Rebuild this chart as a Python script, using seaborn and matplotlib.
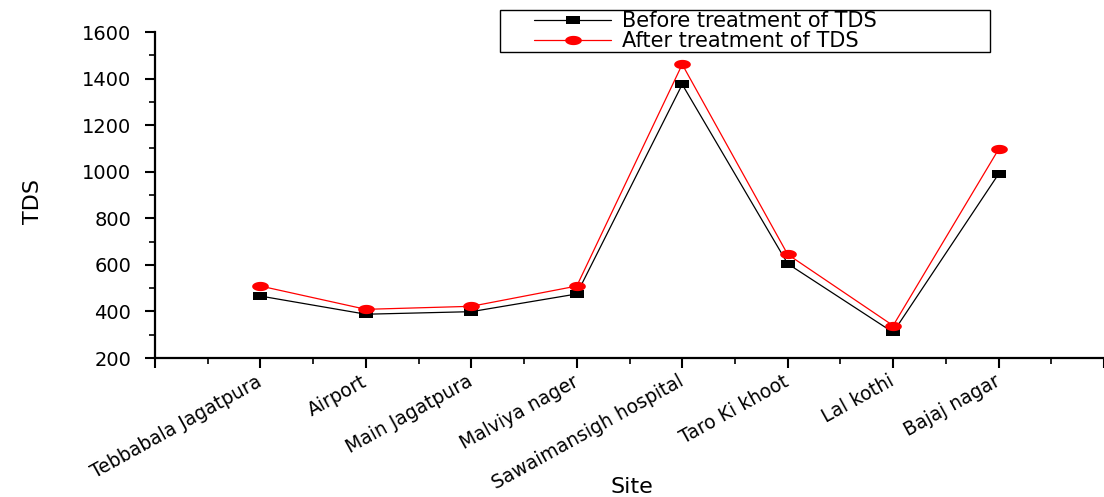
import numpy as np
import pandas as pd
import matplotlib
matplotlib.use("Agg")
import matplotlib.pyplot as plt
from matplotlib.path import Path
from matplotlib.patches import Rectangle
from matplotlib.ticker import MultipleLocator
import seaborn as sns

sites = ["Tebbabala Jagatpura", "Airport", "Main Jagatpura", "Malviya nager",
         "Sawaimansigh hospital", "Taro Ki khoot", "Lal kothi", "Bajaj nagar"]
tds_before = [466, 388, 399, 475, 1375, 605, 310, 990]
tds_after = [509, 409, 422, 509, 1461, 645, 339, 1096]

sns.set_theme(style="white")
plt.rcParams["font.family"] = ["DejaVu Sans"]
plt.rcParams["text.color"] = "black"
plt.rcParams["axes.labelcolor"] = "black"
plt.rcParams["xtick.color"] = "black"
plt.rcParams["ytick.color"] = "black"

# wide rectangle and ellipse markers
rect = Path([(-0.85, -0.5), (0.85, -0.5), (0.85, 0.5), (-0.85, 0.5), (-0.85, -0.5)],
            [Path.MOVETO, Path.LINETO, Path.LINETO, Path.LINETO, Path.CLOSEPOLY])
t = np.linspace(0, 2 * np.pi, 60)
ellipse = Path(np.column_stack([0.9 * np.cos(t), 0.5 * np.sin(t)]), closed=True)

W, H = 1104, 497
fig = plt.figure(figsize=(W / 100, H / 100), dpi=100)
ax = fig.add_axes([155 / W, 139 / H, 1 - 155 / W, 326 / H])

x = np.arange(len(sites))
df = pd.DataFrame({"pos": x, "before": tds_before, "after": tds_after})

sns.lineplot(data=df, x="pos", y="before", ax=ax, color="black", lw=0.9,
             marker=rect, markersize=10.5, markeredgewidth=0, markerfacecolor="black",
             label="Before treatment of TDS")
sns.lineplot(data=df, x="pos", y="after", ax=ax, color="red", lw=0.9,
             marker=ellipse, markersize=12, markeredgewidth=0, markerfacecolor="red",
             label="After treatment of TDS")

ax.set_xlim(-1, (W - 155) / 106.6 - 1)
ax.set_ylim(200, 1600)

for s in ["top", "right"]:
    ax.spines[s].set_visible(False)
for s in ["left", "bottom"]:
    ax.spines[s].set_color("black")
    ax.spines[s].set_linewidth(1.6)

ax.set_xticks(np.arange(-1, 9, 1.0))
ax.set_xticklabels([""] + sites + [""], rotation=29, ha="right", va="center",
                   rotation_mode="anchor", fontsize=13.5)
ax.xaxis.set_minor_locator(MultipleLocator(0.5))
ax.yaxis.set_major_locator(MultipleLocator(200))
ax.yaxis.set_minor_locator(MultipleLocator(100))
ax.tick_params(axis="both", which="major", direction="out", length=7, width=1.5,
               color="black", bottom=True, left=True)
ax.tick_params(axis="both", which="minor", direction="out", length=4, width=1.2,
               color="black", bottom=True, left=True)
ax.tick_params(axis="y", labelsize=14, pad=10)
ax.tick_params(axis="x", pad=9)

ax.set_xlabel("Site", fontsize=16)
ax.xaxis.set_label_coords((632 - 155) / 949, (358 - 487) / 326)
ax.xaxis.label.set_va("center")
ax.set_ylabel("TDS", fontsize=16)
ax.yaxis.set_label_coords((33 - 155) / 949, (358 - 202) / 326)
ax.yaxis.label.set_va("center")

leg = ax.legend(loc="upper left", bbox_to_anchor=(534 / W, 1 - 11 / H),
                bbox_transform=fig.transFigure, frameon=False,
                fontsize=15, handlelength=3.7, borderpad=0.0, labelspacing=0.0,
                handletextpad=0.5, borderaxespad=0)
fig.patches.append(Rectangle((500 / W, 1 - 52 / H), 490 / W, 42 / H,
                             transform=fig.transFigure, fill=False,
                             edgecolor="black", linewidth=1.0))

fig.savefig("out.png", dpi=100)
